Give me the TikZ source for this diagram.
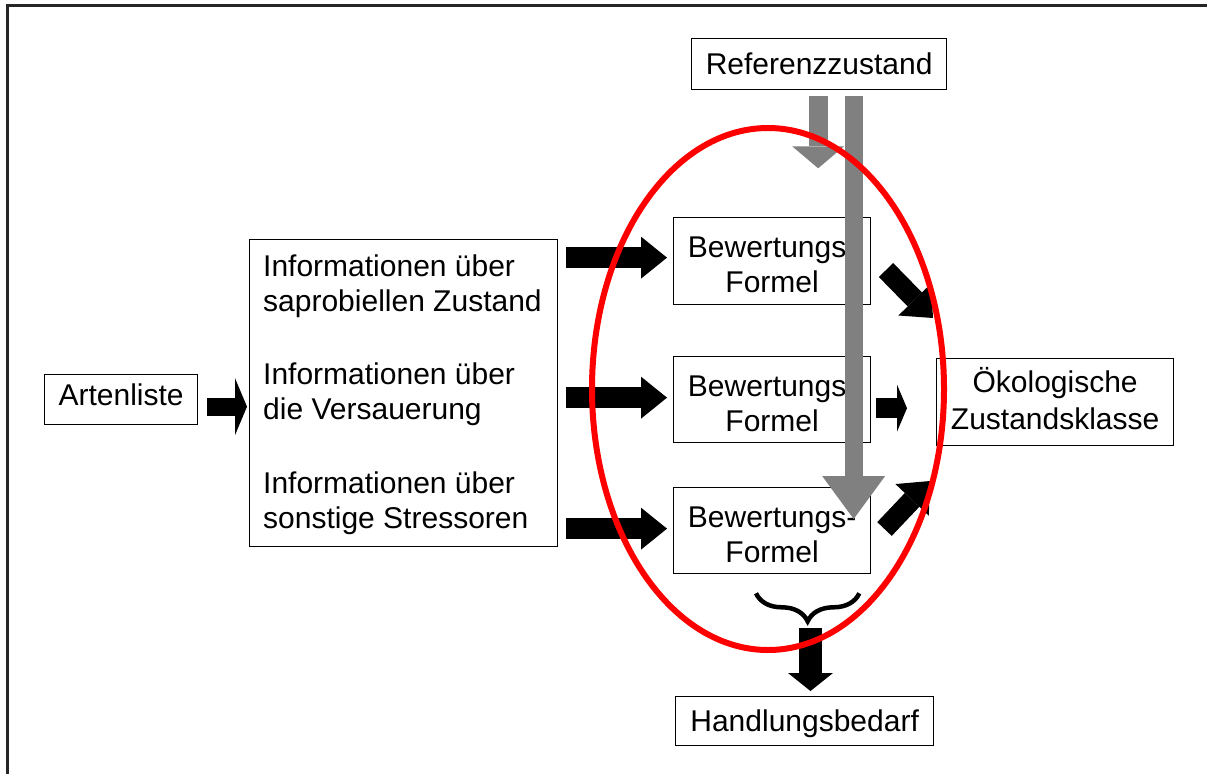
\documentclass[tikz,border=0pt]{standalone}
\usepackage{fontspec}
\setmainfont{Liberation Sans}
\usetikzlibrary{arrows.meta,decorations.pathreplacing,calc}
\begin{document}
\begin{tikzpicture}[x=1pt,y=-1pt,
  box/.style={draw=black, line width=1.3pt, inner sep=0pt, anchor=north west,
              font=\fontsize{30}{34.5}\selectfont},
  txt/.style={inner sep=0pt, anchor=north west, align=left,
              font=\fontsize{30}{34.5}\selectfont},
  bk/.style n args={3}{draw=black, line width=#1,
              -{Triangle[length=#2,width=#3,line width=0pt]}},
  gr/.style n args={3}{draw=black!50, line width=#1,
              -{Triangle[length=#2,width=#3,line width=0pt]}},
  bw/.style={box, minimum width=197pt, minimum height=87pt, align=center,
              font=\fontsize{30}{35}\selectfont}
]
\useasboundingbox (0,0) rectangle (1207,774);
% frame
\draw[line width=3pt, black!85] (7.5,774) -- (7.5,5.5) -- (1207,5.5);

% boxes
\node[box, minimum width=255pt, minimum height=51pt, text height=21.5pt, text depth=0pt] (ref) at (691,38) {Referenzzustand};
\node[box, minimum width=153pt, minimum height=50pt, text height=21.5pt, text depth=9pt] (art) at (44,374) {Artenliste};
\node[box, minimum width=308pt, minimum height=307pt] (info) at (249,239) {};
\node[txt] (i1) at (263,255) {Informationen über\\saprobiellen Zustand};
\node[txt] (i2) at (263,363) {Informationen über\\die Versauerung};
\node[txt] (i3) at (263,472) {Informationen über\\sonstige Stressoren};
\node[bw] (bw1) at (673,217) {\rule{0pt}{28pt}Bewertungs-\\Formel};
\node[bw, minimum height=86pt] (bw2) at (673,356) {\rule{0pt}{28pt}Bewertungs-\\Formel};
\node[bw, minimum height=86pt] (bw3) at (673,487) {\rule{0pt}{28pt}Bewertungs-\\Formel};
\node[box, minimum width=237pt, minimum height=87pt, align=center,
      font=\fontsize{30}{37}\selectfont] (oek) at (936,358)
      {Ökologische\\Zustandsklasse\rule[-7pt]{0pt}{7pt}};
\node[box, minimum width=258pt, minimum height=49pt, text height=21.5pt, text depth=0pt] (hb) at (675,696) {Handlungsbedarf};

% black block arrows
\draw[bk={18pt}{12pt}{57pt}] ($(art.east)+(9,7)$) -- ($(info.west |- art.east)+(-2,7)$);
\draw[bk={21pt}{26pt}{42pt}] ($(info.east |- bw1.west)+(8,-3.5)$) -- ($(bw1.west)+(-6,-3.5)$);
\draw[bk={21pt}{26pt}{42pt}] ($(info.east |- bw2.west)+(8,-2)$) -- ($(bw2.west)+(-6,-2)$);
\draw[bk={21pt}{26pt}{42pt}] ($(info.east |- bw3.west)+(8,-2)$) -- ($(bw3.west)+(-6,-2)$);
\draw[bk={20pt}{10pt}{47pt}] ($(bw2.east)+(5,8.5)$) -- ($(oek.west |- bw2.east)+(-29,8.5)$);
\coordinate (d1a) at (886,270);
\coordinate (d1b) at (933,318);
\coordinate (d2a) at (884.5,529);
\coordinate (d2b) at (930,481);
\draw[bk={20pt}{26pt}{46pt}] (d1a) -- (d1b);
\draw[bk={20pt}{26pt}{46pt}] (d2a) -- (d2b);

% grey arrows from Referenzzustand
\draw[gr={19pt}{22pt}{52pt}] ($(ref.south)+(-1,6)$) -- ++(0,72);
\draw[gr={18pt}{43pt}{63pt}] ($(ref.south)+(34.5,6)$) -- ($(ref.south |- bw3.north)+(34.5,32)$);

% brace and arrow to Handlungsbedarf
\draw[line width=4.5pt, decorate, decoration={brace, amplitude=28pt}]
  ($(bw3.south east)+(-12,19)$) -- ($(bw3.south west)+(83,19)$);
\coordinate (bt) at (810.5,628);
\draw[bk={23pt}{18pt}{45pt}] (bt) -- ($(bt |- hb.north)+(0,-5)$);

% red ellipse
\draw[red, line width=6pt] (768,389) ellipse [x radius=176pt, y radius=261pt];
\end{tikzpicture}
\end{document}
